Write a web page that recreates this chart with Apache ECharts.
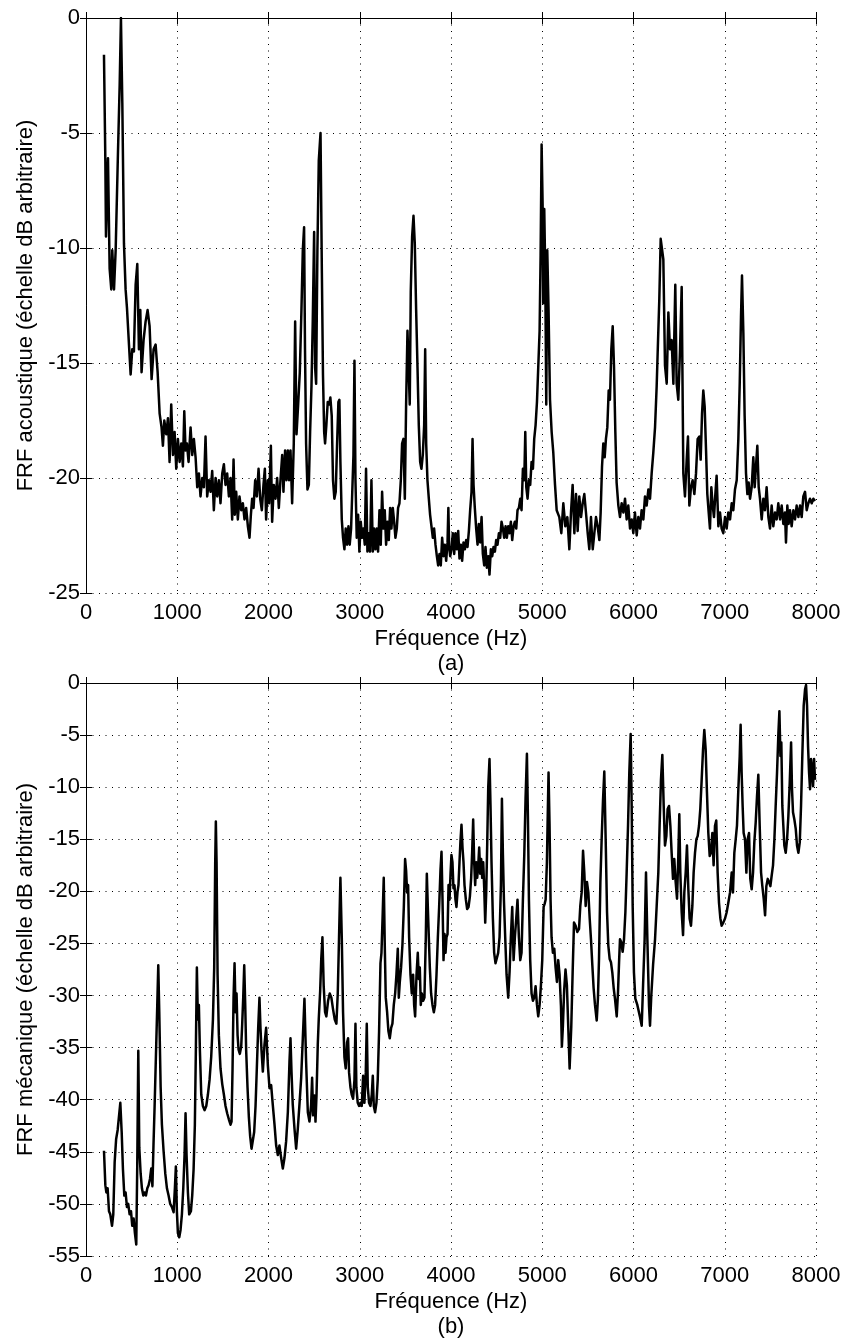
<!DOCTYPE html>
<html>
<head>
<meta charset="utf-8">
<script src="https://cdn.jsdelivr.net/npm/echarts@6/dist/echarts.min.js"></script>
<style>
html,body{margin:0;padding:0;background:#fff;}
#chart{width:844px;height:1340px;}
</style>
</head>
<body>
<div id="chart"></div>
<script>
// ---- Data ----
const xTicks = [0, 1000, 2000, 3000, 4000, 5000, 6000, 7000, 8000];
const yTicksA = [-25, -20, -15, -10, -5, 0];
const yTicksB = [-55, -50, -45, -40, -35, -30, -25, -20, -15, -10, -5, 0];

// (a) acoustic FRF: frequency (Hz)
const freqA = [197,212,219,241,259,277,288,307,325,350,369,383,398,416,434,449,471,489,507,525,544,562,580,595,609,631,653,675,697,719,741,763,785,807,828,843,858,880,898,916,934,953,971,989,1007,1026,1044,1062,1077,1091,1106,1124,1146,1164,1182,1201,1219,1237,1255,1274,1292,1310,1328,1347,1365,1383,1401,1420,1438,1456,1474,1493,1511,1529,1547,1566,1584,1602,1617,1631,1646,1664,1682,1701,1719,1737,1755,1774,1792,1807,1821,1836,1854,1872,1891,1909,1927,1945,1960,1974,1993,2007,2026,2040,2058,2077,2095,2113,2131,2150,2164,2182,2197,2212,2226,2241,2259,2277,2292,2307,2325,2343,2361,2376,2390,2400,2412,2427,2442,2456,2471,2485,2500,2511,2522,2536,2551,2570,2585,2597,2610,2620,2634,2649,2664,2678,2693,2707,2722,2737,2751,2766,2777,2788,2803,2817,2832,2846,2861,2876,2890,2905,2920,2931,2942,2953,2967,2982,2996,3011,3026,3040,3055,3069,3084,3099,3113,3128,3143,3157,3172,3186,3201,3216,3230,3245,3260,3274,3289,3303,3318,3333,3347,3362,3377,3391,3406,3420,3435,3450,3464,3479,3494,3508,3523,3537,3548,3559,3574,3589,3603,3618,3633,3647,3662,3676,3691,3706,3717,3728,3742,3757,3771,3786,3801,3815,3830,3845,3859,3874,3888,3903,3918,3932,3947,3962,3971,3980,3991,4005,4020,4035,4049,4064,4079,4093,4108,4122,4137,4152,4166,4181,4196,4210,4225,4236,4247,4261,4276,4291,4305,4320,4335,4349,4364,4378,4393,4408,4422,4437,4452,4466,4481,4495,4510,4525,4539,4554,4569,4583,4598,4612,4627,4642,4656,4671,4686,4700,4715,4729,4744,4759,4773,4788,4803,4814,4825,4839,4854,4868,4883,4898,4912,4927,4942,4956,4971,4982,4993,5004,5011,5022,5033,5044,5055,5069,5085,5103,5121,5140,5158,5187,5209,5231,5253,5275,5297,5315,5333,5352,5370,5388,5406,5425,5443,5461,5479,5498,5516,5534,5553,5571,5589,5607,5626,5640,5655,5669,5684,5698,5713,5728,5742,5757,5772,5786,5801,5815,5834,5852,5870,5889,5907,5925,5943,5962,5980,5998,6016,6035,6053,6071,6089,6108,6126,6144,6163,6181,6199,6217,6236,6254,6269,6283,6298,6327,6345,6364,6382,6400,6418,6437,6458,6473,6491,6510,6528,6546,6564,6583,6597,6612,6630,6648,6667,6685,6703,6722,6736,6751,6765,6780,6795,6809,6824,6838,6853,6868,6882,6897,6911,6930,6948,6966,6984,7003,7021,7039,7058,7076,7094,7112,7131,7149,7164,7178,7189,7204,7218,7233,7248,7262,7277,7295,7313,7328,7342,7357,7372,7386,7405,7423,7441,7459,7478,7496,7514,7532,7551,7569,7587,7606,7624,7642,7660,7671,7686,7700,7715,7733,7752,7770,7788,7807,7825,7843,7861,7880,7898,7916,7934,7953,7971,7989];
// (a) acoustic FRF: level (dB)
const frfA = [-1.6,-6.2,-9.5,-6.1,-10.9,-11.8,-10.1,-11.8,-10.1,-5.9,-2.9,0,-3.7,-9.8,-11.8,-12.6,-14.2,-15.5,-14.4,-14.5,-11.6,-10.7,-14.4,-12.7,-15.4,-14.0,-13.2,-12.7,-13.4,-15.7,-14.4,-14.2,-15.4,-17.2,-17.8,-18.6,-17.5,-18.1,-17.4,-19.3,-16.8,-19.0,-18.0,-19.6,-18.3,-19.3,-18.5,-19.5,-17.1,-18.8,-18.5,-19.3,-17.8,-19.0,-18.3,-19.1,-20.4,-19.8,-20.8,-20.0,-20.4,-18.2,-20.8,-20.1,-20.6,-19.7,-21.4,-20.0,-20.8,-20.1,-21.1,-19.8,-19.4,-20.3,-19.8,-20.8,-20.0,-21.8,-19.2,-21.6,-20.6,-21.8,-20.8,-21.4,-21.1,-21.8,-21.3,-22.1,-22.6,-21.6,-20.9,-21.3,-20.1,-20.8,-19.6,-20.9,-21.4,-20.3,-19.6,-21.8,-20.1,-21.1,-18.6,-21.9,-20.3,-20.9,-20.0,-21.3,-20.1,-19.0,-20.6,-18.8,-20.1,-18.8,-20.1,-18.8,-21.1,-18.5,-13.2,-18.1,-16.8,-15.4,-12.7,-10.1,-9.1,-14.4,-18.5,-20.5,-20.3,-18.0,-16.0,-13.2,-9.3,-15.2,-15.9,-10.1,-6.2,-5.0,-11.1,-15.5,-18.0,-18.5,-17.7,-16.7,-16.8,-16.5,-17.3,-20.1,-20.9,-20.6,-18.6,-16.7,-16.6,-19.3,-21.8,-22.6,-23.1,-22.2,-22.9,-22.1,-22.9,-22.2,-22.2,-19.0,-14.9,-20.1,-22.6,-21.6,-23.2,-21.9,-22.6,-22.2,-22.9,-19.6,-23.2,-22.4,-23.2,-20.1,-23.2,-22.2,-23.1,-22.2,-23.2,-21.4,-22.9,-20.6,-22.2,-21.4,-22.9,-21.9,-22.7,-21.3,-22.2,-21.3,-21.9,-22.6,-22.2,-21.3,-21.1,-20.1,-18.5,-18.3,-20.9,-16.8,-13.6,-13.6,-16.8,-11.9,-9.5,-8.6,-9.8,-12.7,-15.2,-17.7,-19.3,-19.6,-19.0,-17.7,-14.4,-18.5,-20.1,-20.9,-21.6,-22.1,-22.6,-22.2,-22.9,-23.4,-23.8,-23.3,-23.8,-22.6,-23.4,-22.9,-23.6,-22.8,-21.3,-23.0,-23.4,-23.1,-22.4,-23.3,-22.4,-23.1,-22.3,-23.5,-22.9,-23.6,-22.8,-23.1,-22.7,-23.0,-22.3,-21.4,-20.6,-18.3,-20.3,-21.3,-22.2,-22.9,-22.0,-22.8,-21.7,-23.3,-23.8,-23.0,-23.9,-23.4,-24.2,-23.1,-23.4,-23.0,-23.2,-22.7,-22.9,-22.4,-22.6,-21.9,-22.2,-22.6,-22.1,-22.6,-22.1,-22.4,-21.9,-22.7,-22.1,-21.9,-22.2,-21.4,-21.3,-20.9,-21.4,-19.6,-20.1,-18.0,-20.4,-20.9,-20.1,-20.3,-19.3,-19.6,-18.3,-17.7,-16.7,-15.2,-13.6,-10.3,-5.5,-8.1,-12.4,-8.3,-11.1,-16.8,-10.1,-12.7,-16.6,-18.0,-18.9,-20.3,-21.4,-21.7,-22.4,-21.1,-22.1,-21.7,-23.1,-21.5,-20.3,-22.4,-20.7,-22.3,-20.8,-21.7,-21.1,-20.7,-21.5,-22.4,-23.1,-21.7,-23.1,-22.4,-21.7,-22.1,-22.7,-21.5,-19.5,-18.5,-19.1,-18.3,-17.8,-16.2,-16.6,-14.4,-13.4,-15.1,-18.0,-20.2,-21.2,-21.7,-21.1,-21.5,-20.9,-21.8,-21.2,-22.2,-21.8,-22.4,-21.5,-22.5,-21.7,-22.2,-21.4,-21.8,-20.8,-21.2,-20.5,-20.9,-19.8,-18.9,-17.8,-16.0,-14.0,-12.2,-9.6,-10.5,-15.1,-15.9,-12.8,-14.4,-14.0,-15.9,-11.6,-15.9,-16.6,-14.4,-11.7,-19.8,-20.8,-19.2,-18.2,-21.2,-20.4,-20.1,-20.7,-19.8,-18.3,-18.2,-19.2,-17.2,-16.2,-16.9,-18.8,-20.7,-21.5,-22.2,-20.4,-21.2,-21.7,-20.7,-19.9,-22.1,-21.5,-22.2,-22.4,-21.7,-22.2,-21.5,-21.8,-21.1,-21.4,-20.5,-20.1,-18.3,-15.9,-13.0,-11.2,-13.7,-17.3,-19.8,-20.7,-20.2,-20.9,-20.4,-19.1,-20.4,-19.5,-18.6,-20.4,-20.9,-21.8,-20.9,-21.4,-20.4,-21.7,-22.2,-21.2,-22.1,-21.5,-21.8,-21.1,-21.8,-21.2,-22.0,-21.5,-22.8,-21.2,-22.0,-21.4,-22.1,-21.4,-21.8,-21.2,-21.7,-21.2,-21.7,-20.8,-20.6,-21.4,-21.1,-20.9,-21.1,-20.9,-21.0];

// (b) mechanical FRF: frequency (Hz)
const freqB = [197,212,223,237,252,266,285,299,314,330,347,361,376,391,405,420,434,449,463,478,493,507,522,536,551,562,573,584,599,613,628,642,657,672,686,701,715,728,740,752,766,781,792,803,818,832,850,869,887,905,923,942,960,974,985,996,1007,1022,1036,1051,1066,1080,1091,1102,1117,1131,1150,1164,1179,1193,1204,1215,1226,1237,1248,1263,1281,1299,1318,1336,1354,1372,1391,1405,1416,1423,1431,1442,1456,1474,1493,1511,1529,1547,1566,1584,1595,1606,1617,1628,1639,1650,1661,1672,1686,1701,1712,1723,1734,1745,1755,1770,1785,1799,1814,1828,1843,1858,1872,1887,1901,1912,1923,1938,1956,1974,1993,2011,2029,2047,2066,2084,2102,2120,2139,2157,2175,2193,2212,2230,2241,2252,2266,2285,2303,2321,2339,2358,2376,2394,2412,2431,2449,2467,2478,2489,2504,2515,2526,2540,2551,2566,2578,2591,2605,2620,2634,2653,2671,2689,2707,2726,2744,2759,2773,2788,2803,2817,2832,2846,2861,2872,2883,2898,2912,2927,2942,2953,2963,2978,2993,3007,3022,3037,3051,3066,3077,3088,3102,3117,3132,3143,3154,3168,3183,3197,3212,3227,3238,3252,3263,3274,3285,3300,3314,3329,3344,3358,3373,3388,3402,3417,3428,3439,3453,3468,3483,3497,3508,3519,3530,3541,3556,3570,3585,3596,3607,3622,3636,3647,3658,3669,3680,3695,3709,3724,3735,3746,3757,3768,3782,3797,3812,3826,3841,3856,3870,3885,3896,3907,3918,3929,3940,3951,3962,3973,3984,3995,4005,4016,4027,4038,4049,4060,4071,4082,4093,4104,4115,4126,4137,4148,4163,4177,4192,4207,4221,4232,4243,4254,4265,4276,4287,4298,4309,4320,4331,4342,4353,4364,4375,4386,4397,4408,4422,4433,4444,4459,4473,4488,4503,4517,4532,4547,4558,4569,4580,4594,4609,4627,4642,4656,4671,4686,4700,4715,4729,4744,4759,4773,4788,4803,4817,4832,4843,4854,4868,4883,4898,4912,4927,4942,4956,4971,4985,5000,5015,5026,5037,5051,5062,5069,5080,5091,5102,5117,5132,5146,5161,5175,5190,5205,5215,5226,5240,5255,5270,5285,5300,5318,5333,5348,5366,5384,5403,5417,5432,5447,5461,5476,5490,5505,5520,5534,5549,5563,5578,5597,5610,5622,5637,5651,5666,5680,5695,5710,5724,5739,5753,5768,5783,5797,5816,5830,5843,5852,5867,5881,5896,5911,5925,5940,5954,5969,5980,5991,6005,6020,6042,6070,6090,6105,6122,6137,6152,6170,6181,6195,6215,6236,6254,6272,6287,6301,6316,6331,6345,6360,6374,6389,6404,6418,6433,6447,6462,6477,6491,6502,6513,6528,6543,6557,6572,6586,6601,6615,6630,6645,6659,6674,6689,6703,6718,6732,6747,6762,6776,6791,6805,6820,6835,6849,6864,6878,6893,6907,6922,6937,6952,6966,6984,7003,7021,7039,7058,7076,7090,7105,7120,7134,7149,7164,7174,7185,7196,7207,7222,7237,7251,7266,7280,7295,7310,7324,7339,7354,7368,7383,7398,7412,7427,7442,7456,7471,7485,7500,7514,7529,7544,7558,7573,7588,7599,7610,7620,7631,7642,7653,7668,7683,7697,7712,7727,7737,7748,7763,7778,7792,7807,7822,7836,7850,7865,7880,7891,7902,7913,7924,7935,7946,7957,7968,7979,7989];
// (b) mechanical FRF: level (dB)
const frfB = [-44.9,-48.2,-48.9,-48.5,-50.7,-51.0,-52.1,-51.0,-46.0,-43.8,-42.9,-42.9,-40.3,-43.1,-46.7,-49.2,-48.9,-50.3,-50.0,-51.0,-50.7,-52.1,-51.4,-52.8,-53.9,-46.0,-35.3,-44.6,-47.1,-48.5,-49.2,-48.9,-49.2,-48.5,-48.2,-47.6,-46.6,-48.3,-44.2,-40.6,-35.9,-30.9,-27.1,-31.6,-38.8,-42.4,-44.9,-47.1,-48.5,-49.2,-50.0,-50.3,-50.8,-48.5,-46.4,-50.7,-52.8,-53.2,-52.5,-51.0,-48.5,-45.3,-41.3,-45.3,-48.9,-51.0,-50.7,-49.2,-46.7,-42.4,-35.2,-27.3,-32.3,-30.9,-35.2,-39.5,-40.6,-41.0,-40.6,-39.5,-38.1,-35.9,-32.3,-27.3,-17.2,-13.3,-17.2,-28.0,-33.8,-37.0,-38.5,-39.5,-40.6,-41.3,-41.9,-42.4,-42.1,-37.0,-30.2,-26.9,-31.6,-29.8,-33.8,-35.2,-35.6,-34.9,-32.7,-30.2,-27.1,-30.9,-35.2,-38.8,-41.7,-43.5,-44.7,-44.6,-43.1,-40.6,-37.0,-33.1,-30.2,-33.1,-35.2,-37.3,-34.7,-33.1,-36.7,-38.9,-38.6,-40.5,-42.4,-44.4,-45.3,-44.4,-45.6,-46.6,-45.6,-44.0,-41.2,-36.3,-34.1,-37.3,-40.5,-42.8,-44.7,-42.8,-40.5,-37.9,-34.1,-30.3,-36.3,-41.2,-42.1,-40.5,-37.9,-41.5,-39.6,-42.1,-39.6,-34.7,-32.2,-29.6,-26.5,-24.4,-29.1,-31.6,-32.0,-30.5,-29.8,-30.2,-31.3,-32.3,-32.7,-29.8,-24.4,-18.7,-24.4,-31.6,-35.9,-37.0,-34.5,-34.1,-37.4,-38.8,-39.5,-39.9,-38.1,-32.7,-38.8,-40.3,-40.6,-40.3,-40.6,-37.7,-40.3,-37.4,-32.7,-38.8,-40.3,-40.6,-39.5,-37.7,-40.6,-41.2,-40.3,-38.1,-33.4,-26.9,-25.9,-22.0,-18.7,-25.1,-30.2,-31.6,-33.4,-34.1,-33.1,-32.7,-30.9,-29.8,-28.0,-25.5,-30.2,-28.7,-27.3,-25.1,-21.5,-16.9,-18.0,-20.1,-19.4,-24.4,-28.0,-29.8,-28.0,-30.9,-32.0,-28.0,-25.9,-28.4,-27.3,-30.9,-29.8,-30.5,-30.2,-24.4,-18.3,-21.5,-24.4,-27.3,-29.8,-30.9,-31.6,-30.9,-28.0,-24.4,-21.5,-17.9,-16.2,-20.8,-26.6,-24.1,-25.9,-24.4,-24.1,-19.4,-20.8,-18.3,-16.5,-17.2,-19.7,-19.4,-20.8,-21.5,-20.1,-19.4,-17.2,-15.1,-13.6,-15.8,-17.2,-19.4,-20.8,-21.7,-21.5,-20.5,-18.7,-16.2,-13.1,-17.2,-19.4,-17.2,-18.7,-17.6,-15.8,-18.3,-16.9,-18.7,-17.2,-19.7,-23.0,-20.1,-15.4,-10.0,-7.3,-11.8,-17.2,-22.6,-25.9,-26.9,-26.9,-25.9,-24.4,-19.4,-11.1,-16.5,-20.8,-24.4,-28.0,-30.2,-27.7,-24.4,-21.5,-26.6,-24.4,-22.6,-20.8,-24.4,-26.6,-25.9,-20.8,-16.5,-11.1,-6.8,-12.9,-20.8,-26.6,-29.8,-30.5,-30.2,-29.1,-30.9,-32.0,-30.9,-29.1,-26.6,-21.5,-21.2,-20.8,-17.2,-11.8,-8.6,-13.6,-20.8,-24.4,-25.9,-25.5,-27.3,-28.7,-26.6,-28.0,-31.0,-34.9,-33.0,-29.5,-27.5,-29.0,-33.0,-37.0,-33.0,-27.8,-23.0,-23.3,-23.9,-23.6,-21.4,-20.1,-16.1,-18.2,-21.4,-19.1,-20.1,-22.6,-24.6,-27.1,-29.3,-30.9,-32.4,-30.3,-26.5,-19.1,-15.0,-11.2,-8.5,-15.0,-22.0,-25.2,-26.5,-26.8,-27.8,-29.3,-30.3,-32.0,-29.7,-26.5,-24.6,-24.9,-25.8,-24.6,-22.0,-18.2,-13.7,-8.6,-4.9,-11.8,-21.4,-27.8,-30.3,-30.9,-32.0,-32.9,-29.0,-24.6,-18.2,-24.6,-31.0,-32.9,-30.0,-27.0,-24.6,-21.4,-18.2,-13.4,-9.3,-6.9,-11.8,-15.6,-14.7,-12.1,-11.8,-13.7,-16.3,-18.8,-16.9,-19.1,-20.7,-16.6,-12.6,-18.2,-22.0,-24.2,-20.1,-18.2,-15.6,-19.8,-22.6,-23.3,-21.4,-18.2,-16.3,-15.0,-14.7,-13.7,-12.1,-9.3,-6.4,-4.5,-6.4,-10.5,-14.4,-16.6,-16.3,-14.4,-17.5,-13.7,-13.2,-18.2,-21.1,-22.6,-23.3,-23.0,-22.6,-22.0,-21.1,-20.1,-18.2,-20.1,-16.3,-15.0,-13.7,-10.2,-7.0,-4.0,-8.6,-11.8,-14.4,-15.0,-18.2,-15.0,-14.4,-18.8,-19.8,-18.2,-15.3,-13.4,-10.8,-8.8,-13.7,-18.2,-19.5,-20.7,-22.3,-19.5,-18.8,-19.1,-19.5,-18.5,-17.5,-15.0,-11.8,-8.6,-4.8,-2.7,-7.0,-5.7,-11.8,-13.7,-15.6,-16.3,-15.0,-12.8,-9.6,-5.7,-10.2,-12.4,-13.1,-14.0,-15.6,-16.3,-15.3,-11.8,-7.0,-2.2,-0.6,-0.2,-2.2,-6.1,-8.6,-10.2,-7.3,-8.3,-9.9,-7.3,-9.3];

const FONT = '"Liberation Sans", Arial, Helvetica, sans-serif';

function pairs(xs, ys) { return xs.map((x, i) => [x, ys[i]]); }
function plain(v) { return String(v); }

function mainX(gridIndex, caption) {
  return {
    gridIndex: gridIndex, type: 'value', position: 'bottom',
    min: xTicks[0], max: xTicks[xTicks.length - 1], interval: 1000,
    axisLine: { show: true, lineStyle: { color: '#000', width: 1 } },
    axisTick: { show: true, inside: true, length: 6, lineStyle: { color: '#000' } },
    axisLabel: { color: '#000', fontSize: 22, fontFamily: FONT, margin: 9, formatter: plain },
    splitLine: { show: true, lineStyle: { color: '#000', width: 1, type: [1, 5.5] } },
    name: 'Fréquence (Hz)\n' + caption, nameLocation: 'middle', nameGap: 33,
    nameTextStyle: { color: '#000', fontSize: 22, fontFamily: FONT, lineHeight: 25 }
  };
}
function topX(gridIndex) {
  return {
    gridIndex: gridIndex, type: 'value', position: 'top',
    min: xTicks[0], max: xTicks[xTicks.length - 1], interval: 1000,
    axisLine: { show: true, lineStyle: { color: '#000', width: 1 } },
    axisTick: { show: true, inside: true, length: 6, lineStyle: { color: '#000' } },
    axisLabel: { show: false }, splitLine: { show: false }
  };
}
function mainY(gridIndex, ticks, name) {
  return {
    gridIndex: gridIndex, type: 'value', position: 'left',
    min: ticks[0], max: ticks[ticks.length - 1], interval: 5,
    axisLine: { show: true, lineStyle: { color: '#000', width: 1 } },
    axisTick: { show: true, inside: true, length: 6, lineStyle: { color: '#000' } },
    axisLabel: { color: '#000', fontSize: 22, fontFamily: FONT, margin: 6, formatter: plain },
    splitLine: { show: true, lineStyle: { color: '#000', width: 1, type: [1, 5.5] } },
    name: name, nameLocation: 'middle', nameGap: 48,
    nameTextStyle: { color: '#000', fontSize: 22, fontFamily: FONT }
  };
}
function rightY(gridIndex, ticks) {
  return {
    gridIndex: gridIndex, type: 'value', position: 'right',
    min: ticks[0], max: ticks[ticks.length - 1], interval: 5,
    axisLine: { show: true, lineStyle: { color: '#000', width: 1 } },
    axisTick: { show: true, inside: true, length: 6, lineStyle: { color: '#000' } },
    axisLabel: { show: false }, splitLine: { show: false }
  };
}

const chart = echarts.init(document.getElementById('chart'), null, { renderer: 'canvas' });
chart.setOption({
  backgroundColor: '#fff',
  animation: false,
  grid: [
    { left: 86, top: 18, width: 730, height: 575, show: false },
    { left: 86, top: 683, width: 730, height: 575, show: false }
  ],
  xAxis: [ mainX(0, '(a)'), topX(0), mainX(1, '(b)'), topX(1) ],
  yAxis: [
    mainY(0, yTicksA, 'FRF acoustique (échelle dB arbitraire)'), rightY(0, yTicksA),
    mainY(1, yTicksB, 'FRF mécanique (échelle dB arbitraire)'), rightY(1, yTicksB)
  ],
  series: [
    { type: 'line', xAxisIndex: 0, yAxisIndex: 0, data: pairs(freqA, frfA),
      showSymbol: false, symbol: 'none', clip: true,
      lineStyle: { color: '#000', width: 2.5, join: 'round' } },
    { type: 'line', xAxisIndex: 2, yAxisIndex: 2, data: pairs(freqB, frfB),
      showSymbol: false, symbol: 'none', clip: true,
      lineStyle: { color: '#000', width: 2.5, join: 'round' } }
  ]
});
</script>
</body>
</html>
